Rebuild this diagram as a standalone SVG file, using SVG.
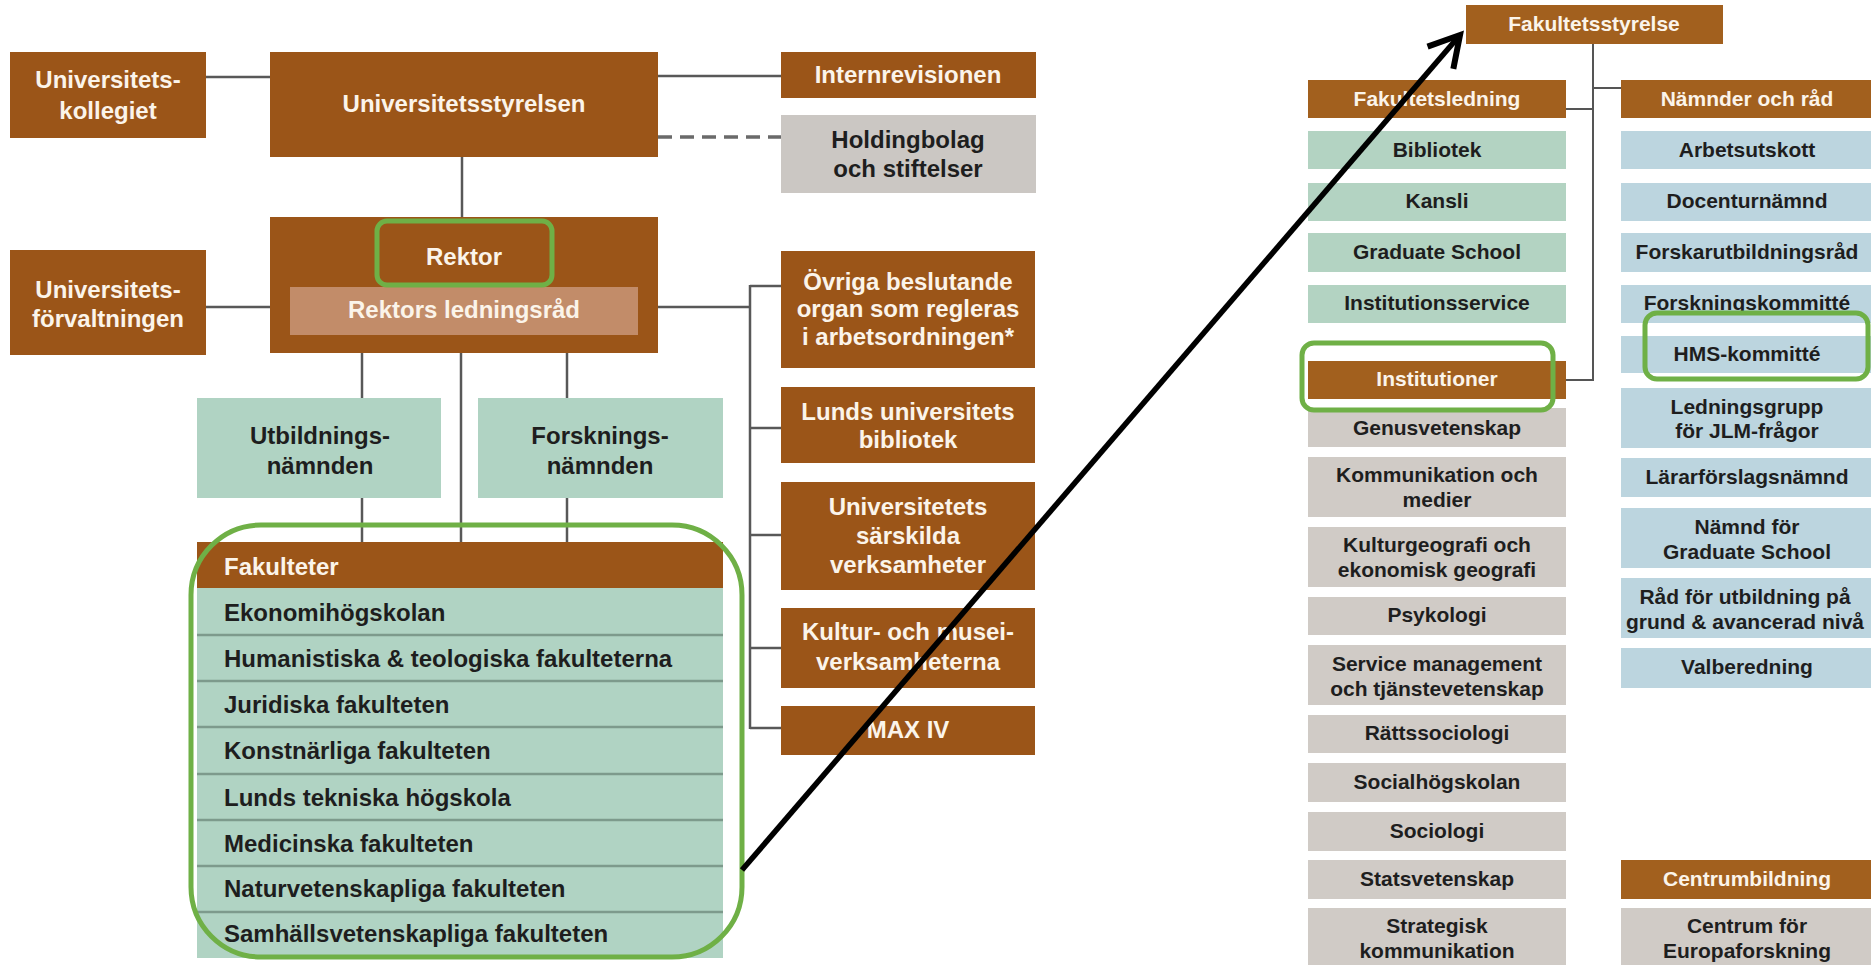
<svg xmlns="http://www.w3.org/2000/svg" width="1871" height="965" viewBox="0 0 1871 965">
<style>
.br{fill:#9b5518}
.brr{fill:#a2601e}
.lb{fill:#c28c69}
.mint{fill:#b0d3c3}
.mintr{fill:#b3d3c2}
.gray{fill:#cbc7c3}
.grayr{fill:#d0cbc6}
.blue{fill:#bcd5df}
.tl{font-family:"Liberation Sans",Arial,sans-serif;font-weight:bold;font-size:24px;text-anchor:middle}
.tr{font-family:"Liberation Sans",Arial,sans-serif;font-weight:bold;font-size:21px;text-anchor:middle}
.w{fill:#fbf4ea}
.d{fill:#1e1e1e}
.ln{stroke:#585858;stroke-width:2.5;fill:none}
.lnr{stroke:#555;stroke-width:2;fill:none}
.sep{stroke:#7d9a8c;stroke-width:2.5}
.hl{fill:none;stroke:#6fb046;stroke-width:5}
</style>
<defs>
<marker id="openArrow" markerUnits="userSpaceOnUse" markerWidth="44" markerHeight="44" viewBox="0 0 44 44" refX="36" refY="22" orient="auto">
<path d="M6,5 L36,22 L6,39" fill="none" stroke="#000" stroke-width="6" stroke-linejoin="miter"/>
</marker>
</defs>
<rect width="1871" height="965" fill="#fff"/>

<g id="connectors">
<line class="ln" x1="206" y1="77" x2="270" y2="77"/>
<line class="ln" x1="658" y1="76" x2="781" y2="76"/>
<line x1="658" y1="137" x2="781" y2="137" stroke="#6a6a6a" stroke-width="3.5" stroke-dasharray="14 8"/>
<line class="ln" x1="462" y1="157" x2="462" y2="217"/>
<line class="ln" x1="206" y1="307" x2="270" y2="307"/>
<line class="ln" x1="658" y1="307" x2="750" y2="307"/>
<line class="ln" x1="750" y1="285" x2="750" y2="729"/>
<line class="ln" x1="750" y1="286" x2="781" y2="286"/>
<line class="ln" x1="750" y1="428" x2="781" y2="428"/>
<line class="ln" x1="750" y1="535" x2="781" y2="535"/>
<line class="ln" x1="750" y1="648" x2="781" y2="648"/>
<line class="ln" x1="750" y1="728" x2="781" y2="728"/>
<line class="ln" x1="362" y1="353" x2="362" y2="398"/>
<line class="ln" x1="567" y1="353" x2="567" y2="398"/>
<line class="ln" x1="461" y1="353" x2="461" y2="542"/>
<line class="ln" x1="362" y1="498" x2="362" y2="542"/>
<line class="ln" x1="567" y1="498" x2="567" y2="542"/>
<line class="lnr" x1="1593" y1="44" x2="1593" y2="381"/>
<line class="lnr" x1="1566" y1="109" x2="1593" y2="109"/>
<line class="lnr" x1="1593" y1="88" x2="1621" y2="88"/>
<line class="lnr" x1="1566" y1="380" x2="1593" y2="380"/>
</g>

<g id="kollegiet">
<rect class="br" x="10" y="52" width="196" height="86"/>
<text class="tl w" x="108" y="88">Universitets-</text>
<text class="tl w" x="108" y="119">kollegiet</text>
</g>
<g id="styrelsen">
<rect class="br" x="270" y="52" width="388" height="105"/>
<text class="tl w" x="464" y="112">Universitetsstyrelsen</text>
</g>
<g id="internrevisionen">
<rect class="br" x="781" y="52" width="255" height="46"/>
<text class="tl w" x="908" y="83">Internrevisionen</text>
</g>
<g id="holdingbolag">
<rect class="gray" x="781" y="115" width="255" height="78"/>
<text class="tl d" x="908" y="148">Holdingbolag</text>
<text class="tl d" x="908" y="177">och stiftelser</text>
</g>
<g id="rektor">
<rect class="br" x="270" y="217" width="388" height="136"/>
<text class="tl w" x="464" y="265">Rektor</text>
<rect class="lb" x="290" y="287" width="348" height="48"/>
<text class="tl w" x="464" y="318">Rektors ledningsråd</text>
</g>
<g id="forvaltningen">
<rect class="br" x="10" y="250" width="196" height="105"/>
<text class="tl w" x="108" y="298">Universitets-</text>
<text class="tl w" x="108" y="327">förvaltningen</text>
</g>
<g id="utbildningsnamnden">
<rect class="mint" x="197" y="398" width="244" height="100"/>
<text class="tl d" x="320" y="444">Utbildnings-</text>
<text class="tl d" x="320" y="474">nämnden</text>
</g>
<g id="forskningsnamnden">
<rect class="mint" x="478" y="398" width="245" height="100"/>
<text class="tl d" x="600" y="444">Forsknings-</text>
<text class="tl d" x="600" y="474">nämnden</text>
</g>
<g id="fakulteter">
<rect class="br" x="197" y="542" width="526" height="46"/>
<rect class="mint" x="197" y="588" width="526" height="370"/>
<line class="sep" x1="197" y1="635" x2="723" y2="635"/>
<line class="sep" x1="197" y1="681" x2="723" y2="681"/>
<line class="sep" x1="197" y1="727" x2="723" y2="727"/>
<line class="sep" x1="197" y1="774" x2="723" y2="774"/>
<line class="sep" x1="197" y1="820" x2="723" y2="820"/>
<line class="sep" x1="197" y1="866" x2="723" y2="866"/>
<line class="sep" x1="197" y1="912" x2="723" y2="912"/>
<text class="tl w" x="224" y="575" style="text-anchor:start">Fakulteter</text>
<text class="tl d" x="224" y="621" style="text-anchor:start">Ekonomihögskolan</text>
<text class="tl d" x="224" y="667" style="text-anchor:start">Humanistiska &amp; teologiska fakulteterna</text>
<text class="tl d" x="224" y="713" style="text-anchor:start">Juridiska fakulteten</text>
<text class="tl d" x="224" y="759" style="text-anchor:start">Konstnärliga fakulteten</text>
<text class="tl d" x="224" y="806" style="text-anchor:start">Lunds tekniska högskola</text>
<text class="tl d" x="224" y="852" style="text-anchor:start">Medicinska fakulteten</text>
<text class="tl d" x="224" y="897" style="text-anchor:start">Naturvetenskapliga fakulteten</text>
<text class="tl d" x="224" y="942" style="text-anchor:start">Samhällsvetenskapliga fakulteten</text>
</g>
<g id="ovriga">
<rect class="br" x="781" y="251" width="254" height="117"/>
<text class="tl w" x="908" y="290">Övriga beslutande</text>
<text class="tl w" x="908" y="317">organ som regleras</text>
<text class="tl w" x="908" y="345">i arbetsordningen*</text>
</g>
<g id="lub">
<rect class="br" x="781" y="387" width="254" height="76"/>
<text class="tl w" x="908" y="420">Lunds universitets</text>
<text class="tl w" x="908" y="448">bibliotek</text>
</g>
<g id="sarskilda">
<rect class="br" x="781" y="482" width="254" height="108"/>
<text class="tl w" x="908" y="515">Universitetets</text>
<text class="tl w" x="908" y="544">särskilda</text>
<text class="tl w" x="908" y="573">verksamheter</text>
</g>
<g id="kultur">
<rect class="br" x="781" y="608" width="254" height="80"/>
<text class="tl w" x="908" y="640">Kultur- och musei-</text>
<text class="tl w" x="908" y="670">verksamheterna</text>
</g>
<g id="maxiv">
<rect class="br" x="781" y="706" width="254" height="49"/>
<text class="tl w" x="908" y="738">MAX IV</text>
</g>

<g id="fakultetsstyrelse">
<rect class="brr" x="1466" y="5" width="257" height="39"/>
<text class="tr w" x="1594" y="31">Fakultetsstyrelse</text>
</g>
<g id="fakultetsledning">
<rect class="brr" x="1308" y="80" width="258" height="38"/>
<text class="tr w" x="1437" y="106">Fakultetsledning</text>
<rect class="mintr" x="1308" y="131" width="258" height="38"/>
<text class="tr d" x="1437" y="157">Bibliotek</text>
<rect class="mintr" x="1308" y="183" width="258" height="38"/>
<text class="tr d" x="1437" y="208">Kansli</text>
<rect class="mintr" x="1308" y="233" width="258" height="39"/>
<text class="tr d" x="1437" y="259">Graduate School</text>
<rect class="mintr" x="1308" y="285" width="258" height="38"/>
<text class="tr d" x="1437" y="310">Institutionsservice</text>
</g>
<g id="institutioner">
<rect class="brr" x="1308" y="361" width="258" height="38"/>
<text class="tr w" x="1437" y="386">Institutioner</text>
<rect class="grayr" x="1308" y="408" width="258" height="39"/>
<text class="tr d" x="1437" y="435">Genusvetenskap</text>
<rect class="grayr" x="1308" y="457" width="258" height="60"/>
<text class="tr d" x="1437" y="482">Kommunikation och</text>
<text class="tr d" x="1437" y="507">medier</text>
<rect class="grayr" x="1308" y="527" width="258" height="60"/>
<text class="tr d" x="1437" y="552">Kulturgeografi och</text>
<text class="tr d" x="1437" y="577">ekonomisk geografi</text>
<rect class="grayr" x="1308" y="597" width="258" height="38"/>
<text class="tr d" x="1437" y="622">Psykologi</text>
<rect class="grayr" x="1308" y="645" width="258" height="60"/>
<text class="tr d" x="1437" y="671">Service management</text>
<text class="tr d" x="1437" y="696">och tjänstevetenskap</text>
<rect class="grayr" x="1308" y="715" width="258" height="38"/>
<text class="tr d" x="1437" y="740">Rättssociologi</text>
<rect class="grayr" x="1308" y="763" width="258" height="39"/>
<text class="tr d" x="1437" y="789">Socialhögskolan</text>
<rect class="grayr" x="1308" y="812" width="258" height="39"/>
<text class="tr d" x="1437" y="838">Sociologi</text>
<rect class="grayr" x="1308" y="860" width="258" height="39"/>
<text class="tr d" x="1437" y="886">Statsvetenskap</text>
<rect class="grayr" x="1308" y="908" width="258" height="62"/>
<text class="tr d" x="1437" y="933">Strategisk</text>
<text class="tr d" x="1437" y="958">kommunikation</text>
</g>
<g id="namnder">
<rect class="brr" x="1621" y="80" width="258" height="38"/>
<text class="tr w" x="1747" y="106">Nämnder och råd</text>
<rect class="blue" x="1621" y="131" width="258" height="38"/>
<text class="tr d" x="1747" y="157">Arbetsutskott</text>
<rect class="blue" x="1621" y="183" width="258" height="38"/>
<text class="tr d" x="1747" y="208">Docenturnämnd</text>
<rect class="blue" x="1621" y="233" width="258" height="39"/>
<text class="tr d" x="1747" y="259">Forskarutbildningsråd</text>
<rect class="blue" x="1621" y="285" width="258" height="38"/>
<text class="tr d" x="1747" y="310">Forskningskommitté</text>
<rect class="blue" x="1621" y="336" width="258" height="37"/>
<text class="tr d" x="1747" y="361">HMS-kommitté</text>
<rect class="blue" x="1621" y="388" width="258" height="60"/>
<text class="tr d" x="1747" y="414">Ledningsgrupp</text>
<text class="tr d" x="1747" y="438">för JLM-frågor</text>
<rect class="blue" x="1621" y="458" width="258" height="39"/>
<text class="tr d" x="1747" y="484">Lärarförslagsnämnd</text>
<rect class="blue" x="1621" y="508" width="258" height="60"/>
<text class="tr d" x="1747" y="534">Nämnd för</text>
<text class="tr d" x="1747" y="559">Graduate School</text>
<rect class="blue" x="1621" y="578" width="258" height="60"/>
<text class="tr d" x="1745" y="604">Råd för utbildning på</text>
<text class="tr d" x="1745" y="629">grund &amp; avancerad nivå</text>
<rect class="blue" x="1621" y="648" width="258" height="40"/>
<text class="tr d" x="1747" y="674">Valberedning</text>
</g>
<g id="centrumbildning">
<rect class="brr" x="1621" y="860" width="258" height="39"/>
<text class="tr w" x="1747" y="886">Centrumbildning</text>
<rect class="grayr" x="1621" y="908" width="258" height="62"/>
<text class="tr d" x="1747" y="933">Centrum för</text>
<text class="tr d" x="1747" y="958">Europaforskning</text>
</g>

<g id="highlights">
<rect class="hl" x="377" y="221" width="175" height="64" rx="10"/>
<rect class="hl" x="191" y="525" width="551" height="432" rx="70" stroke-width="6"/>
<rect class="hl" x="1302" y="343" width="251" height="67" rx="12"/>
<rect class="hl" x="1645" y="313" width="223" height="66" rx="12"/>
</g>

<g id="arrow">
<line x1="742" y1="870" x2="1460" y2="35" stroke="#000" stroke-width="5.5" marker-end="url(#openArrow)"/>
</g>
</svg>
